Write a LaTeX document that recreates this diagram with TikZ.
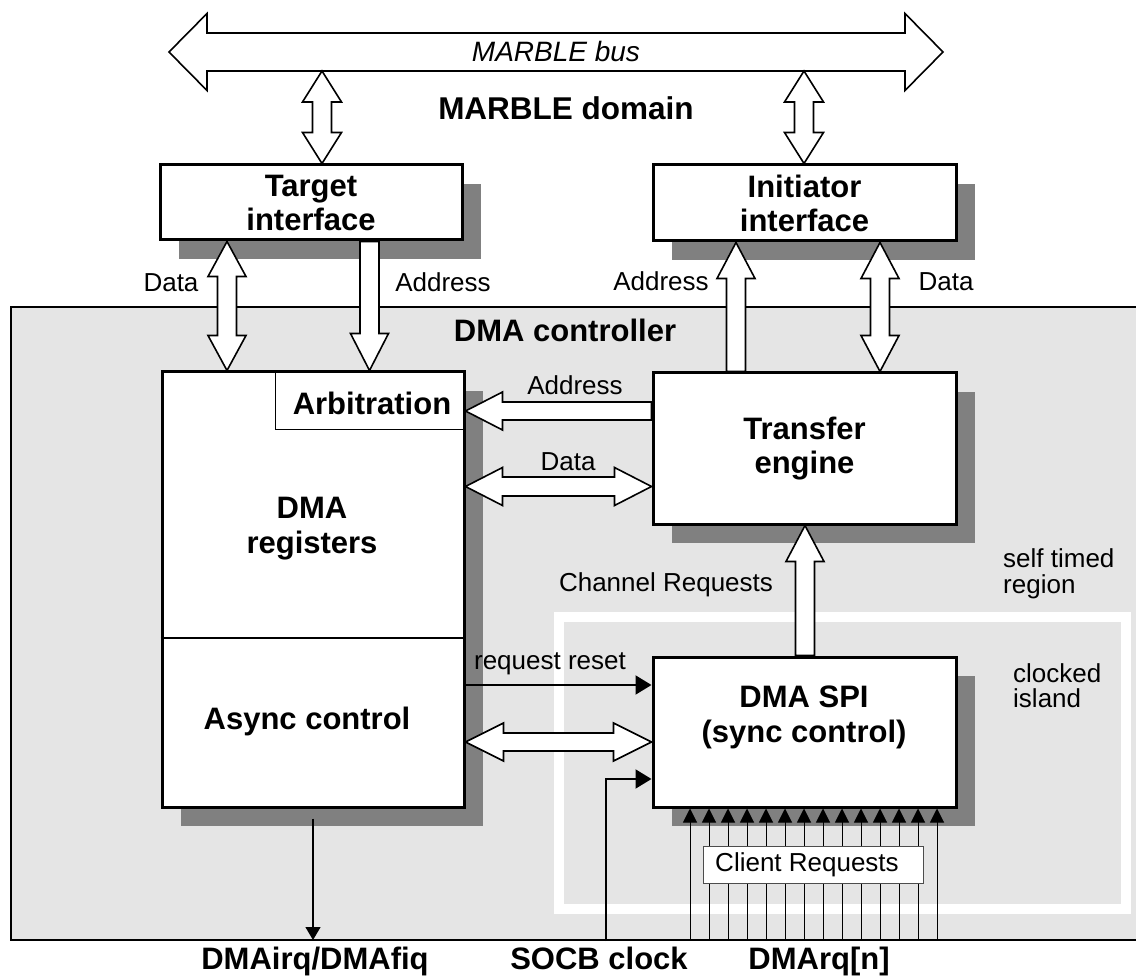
\documentclass[tikz,border=0pt]{standalone}
\usepackage{fontspec}
\setmainfont{Liberation Sans}
\usetikzlibrary{calc,shadows,arrows.meta}

\definecolor{regiongray}{gray}{0.898}
\definecolor{shadowgray}{gray}{0.5}

\newcommand\plainlab{\fontsize{26}{26}\selectfont}
\newcommand\boldlab{\fontsize{31}{34}\selectfont\bfseries}
\newcommand\domainlab{\fontsize{31.5}{33}\selectfont\bfseries}
\newcommand\buslab{\fontsize{28}{30}\selectfont\itshape}

\tikzset{
  box/.style={draw, line width=3pt, fill=white, inner sep=0pt, align=center,
    font=\boldlab,
    drop shadow={shadow xshift=19pt, shadow yshift=-19pt, fill=shadowgray, opacity=1}},
  hollow/.style={draw=black, fill=white, line width=1.6pt, line join=miter},
  lab/.style={font=\plainlab, inner sep=0pt},
  blab/.style={font=\boldlab, inner sep=0pt, align=center},
  sig/.style={line width=2pt, -{Triangle[length=16pt,width=19pt]}},
  irq/.style={line width=1.3pt, -{Triangle[length=13pt,width=15pt]}},
  req/.style={line width=1pt, -{Triangle[length=14pt,width=14pt]}},
}

% hollow block arrow: tail #1, tip #2, head length #3, shaft half-width #4, head half-width #5
\newcommand\hollowone[5]{%
  \path ($(#2)!#3!(#1)$) coordinate (hb);
  \filldraw[hollow]
    ($(#1)!#4!90:(#2)$) -- ($(hb)!#4!-90:(#1)$) -- ($(hb)!#5!-90:(#1)$) -- (#2)
    -- ($(hb)!#5!90:(#1)$) -- ($(hb)!#4!90:(#1)$) -- ($(#1)!#4!-90:(#2)$) -- cycle;
}
% hollow block arrow with heads at both ends
\newcommand\hollowtwo[5]{%
  \path ($(#2)!#3!(#1)$) coordinate (hb) ($(#1)!#3!(#2)$) coordinate (ha);
  \filldraw[hollow]
    (#1) -- ($(ha)!#5!90:(#2)$) -- ($(ha)!#4!90:(#2)$) -- ($(hb)!#4!-90:(#1)$)
    -- ($(hb)!#5!-90:(#1)$) -- (#2) -- ($(hb)!#5!90:(#1)$) -- ($(hb)!#4!90:(#1)$)
    -- ($(ha)!#4!-90:(#2)$) -- ($(ha)!#5!-90:(#2)$) -- cycle;
}

\begin{document}
\begin{tikzpicture}[x=1pt,y=-1pt]
\useasboundingbox (0,0) rectangle (1136,976);
\fill[white] (0,0) rectangle (1136,976);

% DMA controller region
\fill[regiongray] (11,307) rectangle (1136,940);
\draw[line width=1.5pt] (1136,307) -- (11,307) -- (11,940) -- (1136,940);
\node[blab, anchor=base] (ctl) at (565,342) {DMA controller};

% clocked island boundary
\draw[white, line width=10pt] (559,617) rectangle (1126,908.5);

% MARBLE bus
\coordinate (busL) at (169,52);
\coordinate (busR) at (943,52);
\hollowtwo{busL}{busR}{38pt}{19pt}{38.5pt}
\node[font=\buslab, inner sep=0pt, anchor=base] (busname) at (556,62) {MARBLE bus};
\node[font=\domainlab, inner sep=0pt, anchor=base] (domain) at (566,120) {MARBLE domain};

% blocks
\node[box, minimum width=302pt, minimum height=75pt] (tgt) at (311,202.5) {Target\\interface};
\node[box, minimum width=303pt, minimum height=76pt] (ini) at (804.5,203) {Initiator\\interface};
\node[box, minimum width=302pt, minimum height=435pt] (regs) at (313,589.5) {};
\node[box, minimum width=303pt, minimum height=151pt] (te) at (804.5,448.5) {Transfer\\engine};
\node[box, minimum width=303pt, minimum height=150pt] (spi) at (804.5,732) {};

% contents of the register block
\node[inner sep=0pt, minimum width=188pt, minimum height=57pt] (arb) at (369.5,401) {};
\draw[line width=1.2pt] (arb.north west) -- (arb.south west) -- (arb.south east);
\node[blab, anchor=base] (arbtxt) at (372,414) {Arbitration};
\node[blab, anchor=north, font=\fontsize{31}{35}\selectfont\bfseries] (regtxt) at (312,497) {DMA\\registers};
\coordinate (divy) at (0,638);
\draw[line width=1.2pt] (regs.west |- divy) -- (regs.east |- divy);
\node[blab, anchor=base] (async) at (307,729) {Async control};
\node[blab, anchor=north, font=\fontsize{31}{35}\selectfont\bfseries] (spitxt) at (804,686) {DMA SPI\\(sync control)};

% vertical positions / columns used by the connectors
\coordinate (busbot) at (0,71);
\coordinate (xBT) at (322,0);
\coordinate (xBI) at (804,0);
\coordinate (xTD) at (227,0);
\coordinate (xTA) at (369.5,0);
\coordinate (xIA) at (736,0);
\coordinate (xID) at (880,0);
\coordinate (xCR) at (805,0);
\coordinate (yAd) at (0,411);
\coordinate (yDa) at (0,486.5);
\coordinate (yRR) at (0,685);
\coordinate (yAs) at (0,742);
\coordinate (yCk) at (0,779);

% bus to interfaces
\path (xBT |- busbot) coordinate (btA) (xBT |- tgt.north) coordinate (btB);
\hollowtwo{btA}{btB}{31pt}{9.5pt}{19.5pt}
\path (xBI |- busbot) coordinate (biA) (xBI |- ini.north) coordinate (biB);
\hollowtwo{biA}{biB}{31pt}{9.5pt}{19.5pt}

% target interface to registers
\path (xTD |- tgt.south) coordinate (tdA) (xTD |- regs.north) coordinate (tdB);
\hollowtwo{tdA}{tdB}{35pt}{9.5pt}{19pt}
\path (xTA |- tgt.south) coordinate (taA) (xTA |- regs.north) coordinate (taB);
\hollowone{taA}{taB}{37pt}{9.5pt}{19pt}
\node[lab, anchor=base] (tdlab) at (171,292) {Data};
\node[lab, anchor=base] (talab) at (443,292) {Address};

% transfer engine to initiator interface
\path (xIA |- te.north) coordinate (iaA) (xIA |- ini.south) coordinate (iaB);
\hollowone{iaA}{iaB}{36pt}{9.5pt}{19pt}
\path (xID |- ini.south) coordinate (idA) (xID |- te.north) coordinate (idB);
\hollowtwo{idA}{idB}{36pt}{9.5pt}{19pt}
\node[lab, anchor=base] (ialab) at (661,291) {Address};
\node[lab, anchor=base] (idlab) at (946,291) {Data};

% transfer engine to registers
\path (te.west |- yAd) coordinate (adA) (regs.east |- yAd) coordinate (adB);
\hollowone{adA}{adB}{37pt}{9pt}{19pt}
\node[lab, anchor=base] (adlab) at (575,395) {Address};
\path (regs.east |- yDa) coordinate (daA) (te.west |- yDa) coordinate (daB);
\hollowtwo{daA}{daB}{37pt}{9.5pt}{19pt}
\node[lab, anchor=base] (dalab) at (568,470) {Data};

% channel requests
\path (xCR |- spi.north) coordinate (crA) (xCR |- te.south) coordinate (crB);
\hollowone{crA}{crB}{36pt}{9.5pt}{19pt}
\node[lab, anchor=base] (crlab) at (666,591) {Channel Requests};

% async control to DMA SPI
\draw[sig] (regs.east |- yRR) -- (spi.west |- yRR);
\node[lab, anchor=base] (rrlab) at (550,669) {request reset};
\path (regs.east |- yAs) coordinate (asA) (spi.west |- yAs) coordinate (asB);
\hollowtwo{asA}{asB}{38pt}{9pt}{19pt}

% clock input
\coordinate (ckin) at (606,941);
\draw[sig] (ckin) |- (spi.west |- yCk);

% interrupt output
\coordinate (irqout) at (313,940);
\draw[irq] ([yshift=-10pt]regs.south) -- (irqout);

% client request lines
\foreach \i in {0,...,13}{
  \coordinate (cr\i) at (690+19*\i,940);
  \draw[req] (cr\i) -- (cr\i |- spi.south);
}
\node[draw=black!70, line width=1pt, fill=white, font=\plainlab, inner sep=0pt,
      minimum width=220pt, minimum height=37pt] (creq) at (813,864.5)
      {Client Requests\hspace*{12pt}};

% region notes
\node[lab, anchor=north west, align=left] (stlab) at (1003,548) {self timed\\region};
\node[lab, anchor=north west, align=left, font=\fontsize{26}{25}\selectfont] (cilab) at (1013,663) {clocked\\island};

% external signals
\node[blab, anchor=base] (irqlab) at (315,969) {DMAirq/DMAfiq};
\node[blab, anchor=base] (cklab) at (599,969) {SOCB clock};
\node[blab, anchor=base] (rqlab) at (819,969) {DMArq[n]};
\end{tikzpicture}
\end{document}
